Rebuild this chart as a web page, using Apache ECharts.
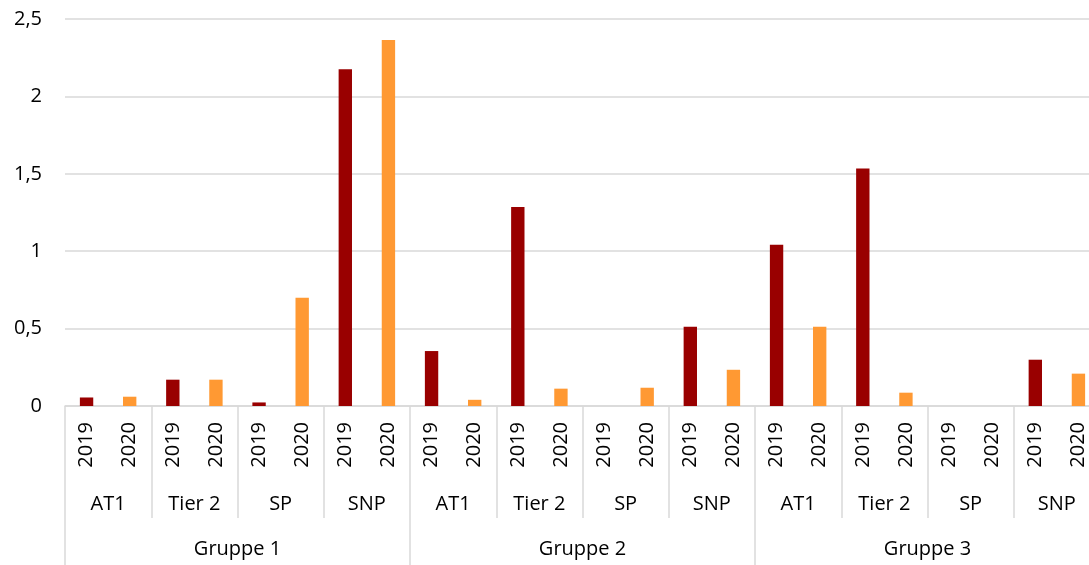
<!DOCTYPE html>
<html>
<head>
<meta charset="utf-8">
<script src="https://cdn.jsdelivr.net/npm/echarts@6/dist/echarts.min.js"></script>
<style>
html,body{margin:0;padding:0;background:#fff;overflow:hidden;width:1089px;height:565px;}
#chart{width:1100px;height:565px;}
</style>
</head>
<body>
<div id="chart"></div>
<script>
const groups = ["Gruppe 1", "Gruppe 2", "Gruppe 3"];
const subgroups = ["AT1", "Tier 2", "SP", "SNP"];
const years = ["2019", "2020"];
// values per group x subgroup (order: G1 AT1, Tier 2, SP, SNP, G2 ..., G3 ...)
const values2019 = [0.055, 0.17, 0.023, 2.175, 0.355, 1.285, 0, 0.512, 1.041, 1.534, 0, 0.299];
const values2020 = [0.06, 0.17, 0.70, 2.365, 0.04, 0.112, 0.118, 0.234, 0.512, 0.086, 0, 0.209];
const yTicks = { min: 0, max: 2.5, interval: 0.5 };

const yearCats = [], subCats = [], d2019 = [], d2020 = [];
let k = 0;
groups.forEach((g) => {
  subgroups.forEach((s) => {
    subCats.push(s);
    years.forEach((y) => yearCats.push(y));
    d2019.push(values2019[k]); d2019.push(null);
    d2020.push(null); d2020.push(values2020[k]);
    k++;
  });
});

const FONT = '"Open Sans"';
const txt = { fontFamily: FONT, fontSize: 20, color: '#000' };
const gridColor = '#d9d9d9';

const chart = echarts.init(document.getElementById('chart'), null, { renderer: 'canvas' });
chart.setOption({
  animation: false,
  backgroundColor: '#fff',
  grid: { left: 65, right: 0, top: 19, bottom: 159, containLabel: false },
  xAxis: [
    {
      type: 'category', data: yearCats, position: 'bottom', boundaryGap: true,
      axisLine: { show: true, lineStyle: { color: gridColor, width: 1.5 } },
      axisTick: { show: false },
      axisLabel: Object.assign({ rotate: 90, margin: 16, interval: 0 }, txt)
    },
    {
      type: 'category', data: subCats, position: 'bottom', boundaryGap: true,
      axisLine: { show: false },
      axisTick: { show: true, length: 112, interval: 0, lineStyle: { color: gridColor, width: 1.5 } },
      axisLabel: Object.assign({ margin: 88, interval: 0 }, txt)
    },
    {
      type: 'category', data: groups, position: 'bottom', boundaryGap: true,
      axisLine: { show: false },
      axisTick: { show: true, length: 165, interval: 0, lineStyle: { color: gridColor, width: 1.5 } },
      axisLabel: Object.assign({ margin: 133, interval: 0 }, txt)
    }
  ],
  yAxis: {
    type: 'value', min: yTicks.min, max: yTicks.max, interval: yTicks.interval,
    axisLine: { show: false }, axisTick: { show: false },
    splitLine: { lineStyle: { color: gridColor, width: 1.5 } },
    axisLabel: Object.assign({ margin: 23, formatter: (v) => String(v).replace('.', ',') }, txt)
  },
  series: [
    { name: '2019', type: 'bar', stack: 'a', data: d2019, barWidth: '31%', itemStyle: { color: '#990000' } },
    { name: '2020', type: 'bar', stack: 'a', data: d2020, barWidth: '31%', itemStyle: { color: '#FF9933' } }
  ]
});
</script>
</body>
</html>
